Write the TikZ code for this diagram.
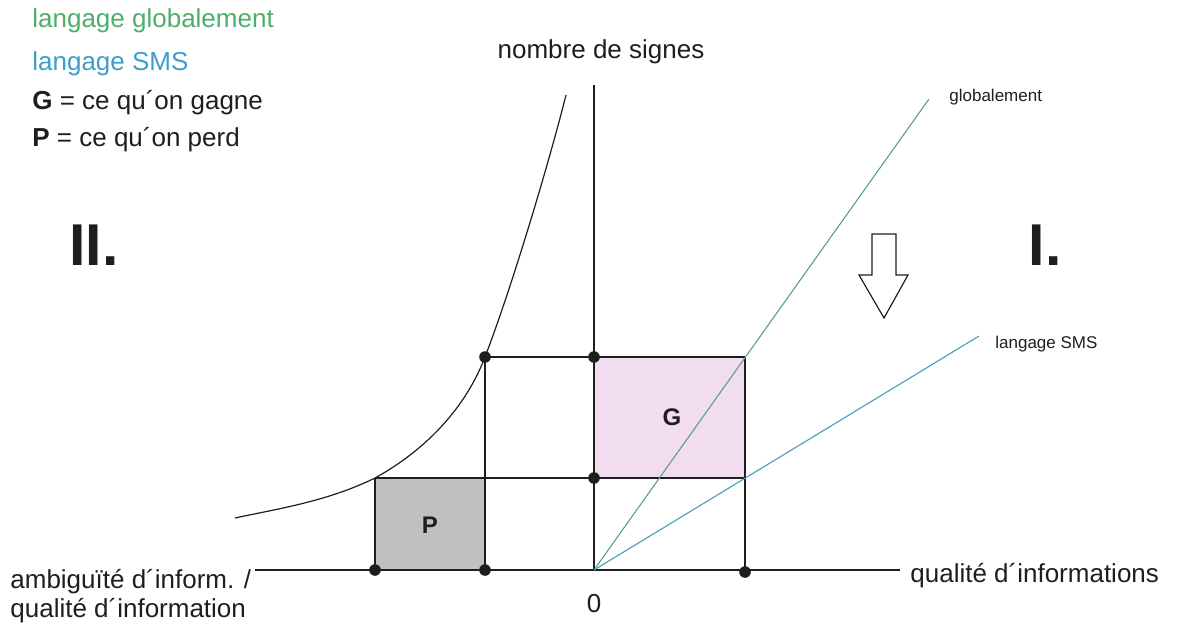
\documentclass[tikz,border=0pt]{standalone}
\usepackage{fontspec}
\setmainfont{Liberation Sans}
\definecolor{globtext}{HTML}{4DAE6B}
\definecolor{smstext}{HTML}{3E9DCB}
\definecolor{globline}{HTML}{5A9E8C}
\definecolor{smsline}{HTML}{4A9DB8}
\definecolor{gainfill}{HTML}{F1DDEF}
\definecolor{lossfill}{HTML}{C0C0C0}
\definecolor{ink}{HTML}{1E1E1E}
\begin{document}
\begin{tikzpicture}[x=0.5pt,y=-0.5pt,
  axisline/.style={line width=0.75pt,ink},
  gridline/.style={line width=0.6pt,ink},
  dot/.style={circle,fill=ink,inner sep=0pt,minimum size=5.8pt},
  lbl/.style={inner sep=0pt,text=ink,font=\fontsize{13}{16}\selectfont},
  small/.style={inner sep=0pt,text=ink,font=\fontsize{8.5}{10}\selectfont},
  roman/.style={inner sep=0pt,text=ink,font=\fontsize{29.5}{32}\selectfont\bfseries}]
\useasboundingbox (0,0) rectangle (1184,626);
% points of the grid
\coordinate (O) at (594,570);
\coordinate (xl) at (255,570);
\coordinate (xr) at (900,570);
\coordinate (yt) at (594,85);
\coordinate (a1) at (375,570);
\coordinate (a2) at (485,570);
\coordinate (a3) at (745,570);
\coordinate (b0) at (375,478);
\coordinate (b1) at (485,478);
\coordinate (b2) at (594,478);
\coordinate (b3) at (745,478);
\coordinate (c1) at (485,357);
\coordinate (c2) at (594,357);
\coordinate (c3) at (745,357);
\coordinate (gl) at (929,99);
\coordinate (sl) at (979,336);
\coordinate (k0) at (235,518);
\coordinate (k2) at (566,95);
% areas
\fill[gainfill] (c2) rectangle (b3);
\fill[lossfill] (b0) rectangle (a2);
% axes
\draw[axisline] (xl) -- (xr);
\draw[axisline] (O) -- (yt);
% grid
\draw[gridline] (c1) -- (c3);
\draw[gridline] (b0) -- (b3);
\draw[gridline] (c1) -- (a2);
\draw[gridline] (c3) -- (a3);
\draw[gridline] (b0) -- (a1);
% lines
\draw[globline,line width=0.55pt] (O) -- (gl);
\draw[smsline,line width=0.55pt] (O) -- (sl);
% curve
\draw[ink,line width=0.6pt] (k0) .. controls (282,508) and (328,501) .. (b0)
  .. controls (415,456) and (462,417) .. (c1)
  .. controls (512,287) and (550,159) .. (k2);
% dots
\node[dot] (d1) at (c1) {};
\node[dot] (d2) at (c2) {};
\node[dot] (d3) at (b2) {};
\node[dot] (d4) at (a1) {};
\node[dot] (d5) at (a2) {};
\node[dot] (d6) at (745,572) {};
% block arrow
\draw[ink,line width=0.6pt,fill=white] (872,234) -- (896,234) -- (896,275) -- (908,275)
  -- (884,318) -- (859,275) -- (872,275) -- cycle;
% labels
\node[lbl,font=\fontsize{12}{14}\selectfont\bfseries] (G) at (672,417) {G};
\node[lbl,font=\fontsize{12}{14}\selectfont\bfseries] (P) at (430,525) {P};
\node[lbl] (ylabel) at (601,52) {nombre de signes};
\node[lbl,anchor=west] (xlabel) at (910,576) {qualité d´informations};
\node[lbl] (zero) at (594,604) {0};
\node[lbl,anchor=west,align=left,font=\fontsize{13}{14.5}\selectfont] (leftlabel) at (10,596)
  {ambiguïté d´inform. /\\ qualité d´information};
\node[small,anchor=west] (globlbl) at (949,97) {globalement};
\node[small,anchor=west] (smslbl) at (995,344) {langage SMS};
\node[roman] (II) at (94,245) {II.};
\node[roman] (I) at (1045,245) {I.};
% legend
\node[lbl,anchor=west,text=globtext] (leg1) at (32,21) {langage globalement};
\node[lbl,anchor=west,text=smstext] (leg2) at (32,64) {langage SMS};
\node[lbl,anchor=west] (leg3) at (32,103) {\textbf{G} = ce qu´on gagne};
\node[lbl,anchor=west] (leg4) at (32,140) {\textbf{P} = ce qu´on perd};
\end{tikzpicture}
\end{document}
